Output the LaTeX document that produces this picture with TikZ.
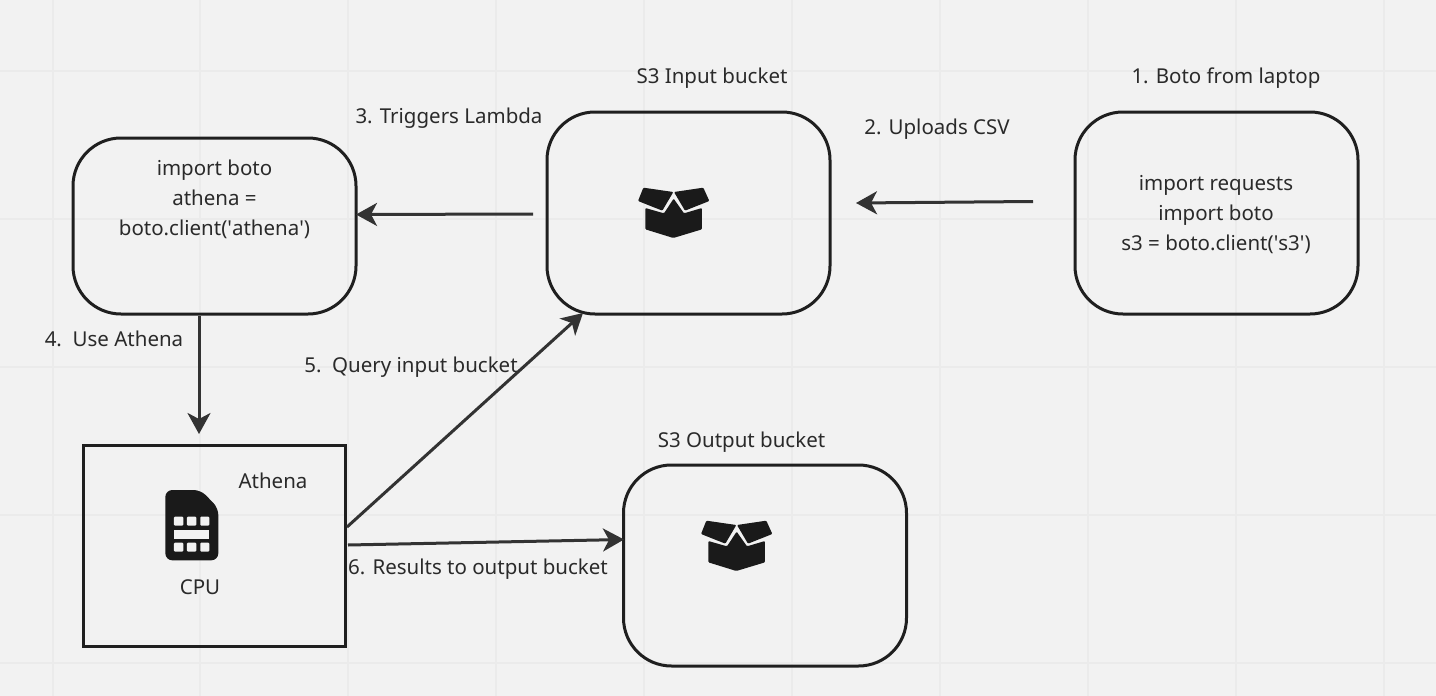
\documentclass[tikz,border=0pt]{standalone}
\usepackage{fontspec}
\setmainfont{Noto Sans}
\usetikzlibrary{arrows.meta}
\definecolor{bgc}{HTML}{F2F2F2}
\definecolor{gridc}{HTML}{EBEBEB}
\definecolor{edgec}{HTML}{1F1F1F}
\definecolor{arrc}{HTML}{333333}
\definecolor{txtc}{HTML}{2A2A2A}
\definecolor{iconc}{HTML}{1A1A1A}
\newcommand{\sq}{\textquotesingle}
\tikzset{
  roundbox/.style={draw=edgec,line width=3pt,rounded corners=48pt,minimum width=283pt,inner sep=0pt,outer sep=0pt},
  sqbox/.style={draw=edgec,line width=3pt,minimum width=262pt,minimum height=201pt,inner sep=0pt,outer sep=0pt},
  lab/.style={text=txtc,inner sep=0pt,align=center,font=\fontsize{20.5}{30}\selectfont},
  conn/.style={draw=arrc,line width=3pt,-{Stealth[length=21pt,width=23pt,inset=6pt]}},
  gridl/.style={draw=gridc,line width=2pt},
  boxicon/.pic={
    \begin{scope}[x=0.3333pt,y=-0.3333pt,fill=iconc,rounded corners=1pt]
      \fill (70,53) -- (160,66) -- (127,122) -- (54,93) -- cycle;
      \fill (162,66) -- (250,53) -- (268,93) -- (195,122) -- cycle;
      \fill (76,114) -- (132,130) -- (161,86) -- (192,130) -- (246,114) -- (246,178) -- (160,204) -- (76,178) -- cycle;
    \end{scope}
  },
}
\begin{document}
\begin{tikzpicture}[x=1pt,y=-1pt]
\useasboundingbox (0,0) rectangle (1436,696);
\fill[bgc] (0,0) rectangle (1436,696);
\foreach \gx in {53,200,348,496,644,792,940,1088,1236,1384} \draw[gridl] (\gx,0) -- (\gx,696);
\foreach \gy in {71,219,367,515,663} \draw[gridl] (0,\gy) -- (1436,\gy);

\node[roundbox,minimum height=176pt] (lambda) at (214.5,226) {};
\node[roundbox,minimum height=202pt] (input) at (688.5,213) {};
\node[roundbox,minimum height=202pt] (laptop) at (1216.5,213) {};
\node[roundbox,minimum height=201pt] (output) at (765,565.5) {};
\node[sqbox] (athena) at (214,545.5) {};

\node[lab] (laptoptext) at (1216,215) {import requests\\import boto\\s3 = boto.client(\sq s3\sq)};
\node[lab] (lambdatext) at (214.5,199) {import boto\\athena =\\boto.client(\sq athena\sq)};
\node[lab] (t1) at (1226,78) {1. Boto from laptop};
\node[lab] (t2) at (937,129) {2. Uploads CSV};
\node[lab] (t3) at (449,118.5) {3. Triggers Lambda};
\node[lab] (t4) at (114,339) {4.\ \ Use Athena};
\node[lab] (t5) at (411,367) {5.\ \ Query input bucket};
\node[lab] (t6) at (478,569) {6. Results to output bucket};
\node[lab] (t7) at (712,78) {S3 Input bucket};
\node[lab] (t8) at (741.5,442) {S3 Output bucket};
\node[lab] (t9) at (273,480.5) {Athena};
\node[lab] (t10) at (200,587) {CPU};

\pic at (620,170) {boxicon};
\pic at (683,503) {boxicon};
\begin{scope}[shift={(150,480)},x=0.3333pt,y=-0.3333pt]
  \fill[iconc,rounded corners=7pt] (46,30) -- (152,30) -- (205,84) -- (205,241) -- (46,241) -- cycle;
  \fill[bgc,rounded corners=1pt] (72,110) rectangle (100,137);
  \fill[bgc,rounded corners=1pt] (111,110) rectangle (139,137);
  \fill[bgc,rounded corners=1pt] (151,110) rectangle (178,137);
  \fill[bgc] (72,150) rectangle (178,176);
  \fill[bgc,rounded corners=1pt] (72,188) rectangle (100,215);
  \fill[bgc,rounded corners=1pt] (111,188) rectangle (139,215);
  \fill[bgc,rounded corners=1pt] (151,188) rectangle (178,215);
\end{scope}

\coordinate (a1s) at (1033,201.5);
\coordinate (a1e) at (856,203);
\coordinate (a2s) at (533,214);
\coordinate (a3s) at (199,316);
\coordinate (a3e) at (199,434);
\coordinate (a4s) at (347,527);
\coordinate (a4e) at (583,313);
\coordinate (a5s) at (348,545);
\path (lambda.east) ++(0,-11.5) coordinate (a2e);
\coordinate (a5e) at (624,539.5);
\draw[conn] (a1s) -- (a1e);
\draw[conn] (a2s) -- (a2e);
\draw[conn] (a3s) -- (a3e);
\draw[conn] (a4s) -- (a4e);
\draw[conn] (a5s) -- (a5e);
\end{tikzpicture}
\end{document}
